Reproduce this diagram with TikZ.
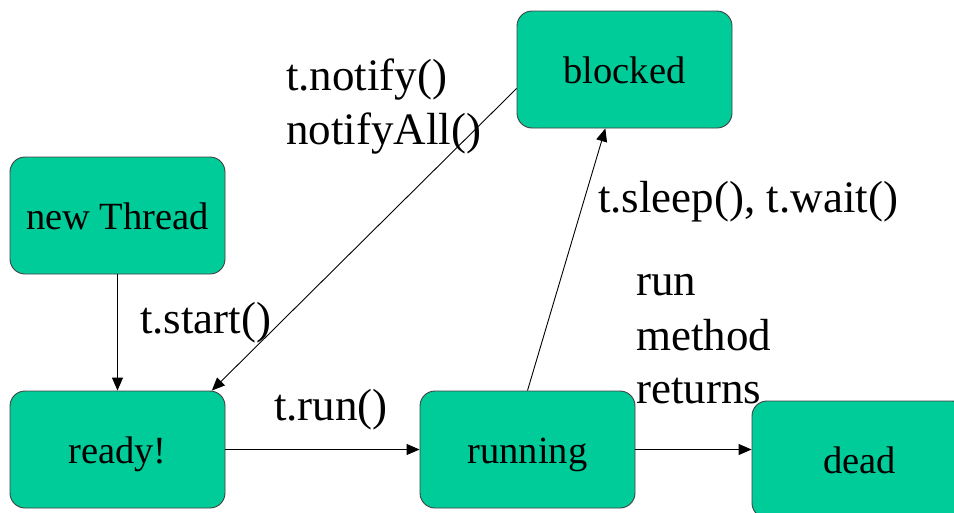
\documentclass[tikz,border=0pt]{standalone}
\usepackage{fontspec}
\setmainfont{Liberation Serif}
\usetikzlibrary{arrows.meta}
\definecolor{stategreen}{RGB}{0,204,153}
\tikzset{
  statebox/.style={draw=black!75, line width=0.9pt, fill=stategreen, rounded corners=15pt,
    font=\fontsize{38.5}{46}\selectfont, inner sep=0pt, text height=28pt, text depth=0pt,
    minimum width=215pt, minimum height=117pt},
  lbl/.style={font=\fontsize{45}{54}\selectfont, inner sep=0pt, anchor=base west},
  conn/.style={line width=0.9pt, -{Triangle[length=13pt,width=11pt]}}
}
\begin{document}
\begin{tikzpicture}[x=1pt,y=-1pt]
\useasboundingbox (0,0) rectangle (954,512);
\clip (0,0) rectangle (954,512);
\node[statebox] (new) at (117.5,215.5) {new Thread};
\node[statebox] (ready) at (117.5,449.5) {ready!};
\node[statebox] (blocked) at (624.5,69.5) {blocked};
\node[statebox] (running) at (527.5,449.5) {running};
\node[statebox] (dead) at (859.5,459.5) {dead};

\node[lbl] (l1) at (286,90) {t.notify()};
\node[lbl] (l2) at (286,144) {notifyAll()};
\node[lbl] (l3) at (140,333) {t.start()};
\node[lbl] (l4) at (274,420) {t.run()};
\node[lbl] (l5) at (598,212) {t.sleep(), t.wait()};
\node[lbl] (l6) at (636,295) {run};
\node[lbl] (l7) at (636,350) {method};
\node[lbl] (l8) at (636,403) {returns};

\draw[conn] (new) -- (ready);
\draw[conn] (blocked.190) -- (ready.32);
\draw[conn] (ready.east) -- (running.west);
\draw[conn] (running.north) -- (blocked.252.5);
\draw[conn] (running.east) -- (running.east -| dead.west);
\end{tikzpicture}
\end{document}
